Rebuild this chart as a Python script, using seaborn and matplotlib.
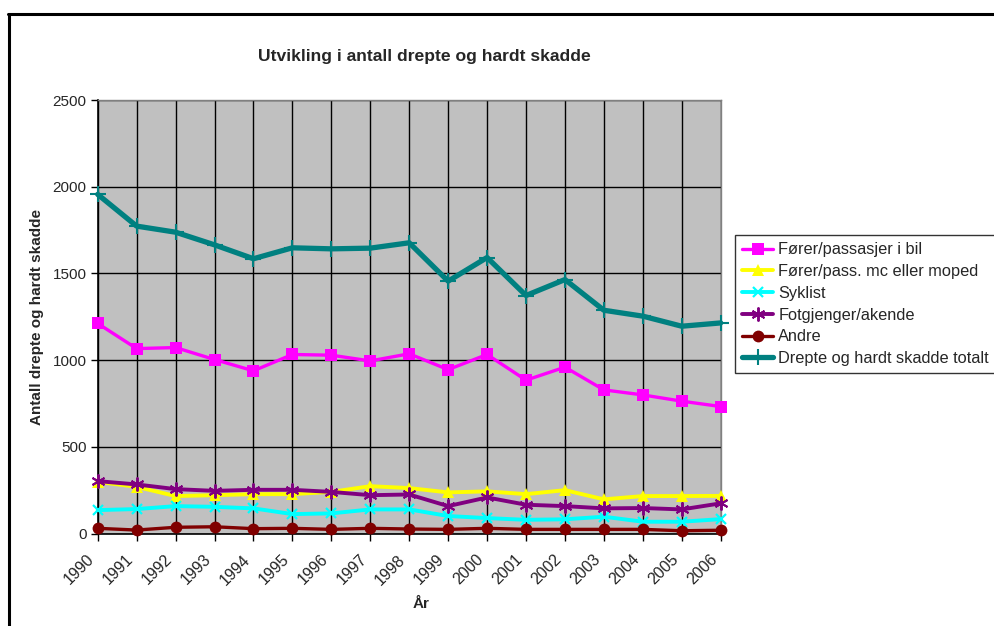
import matplotlib
matplotlib.use("Agg")
import matplotlib.pyplot as plt
from matplotlib.lines import Line2D
from matplotlib.transforms import ScaledTranslation
import seaborn as sns

years = list(range(1990, 2007))

forer_bil = [1212, 1067, 1073, 1004, 939, 1033, 1029, 996, 1037, 946, 1033, 885, 960, 829, 800, 764, 733]
forer_mc = [299, 270, 217, 222, 228, 228, 241, 274, 263, 238, 244, 228, 251, 198, 217, 217, 218]
syklist = [136, 142, 159, 155, 146, 113, 117, 140, 140, 102, 90, 80, 83, 98, 69, 69, 84]
fotgjenger = [303, 284, 257, 247, 253, 253, 241, 222, 226, 159, 209, 167, 159, 146, 148, 140, 175]
andre = [31, 21, 37, 40, 29, 31, 25, 31, 27, 25, 31, 25, 25, 25, 25, 17, 20]
totalt = [1956, 1773, 1738, 1665, 1585, 1648, 1642, 1646, 1677, 1456, 1592, 1373, 1465, 1288, 1254, 1196, 1215]

labels = [
    "Fører/passasjer i bil",
    "Fører/pass. mc eller moped",
    "Syklist",
    "Fotgjenger/akende",
    "Andre",
    "Drepte og hardt skadde totalt",
]
title = "Utvikling i antall drepte og hardt skadde"
ylabel = "Antall drepte og hardt skadde"
xlabel = "År"
yticks = [0, 500, 1000, 1500, 2000, 2500]

sns.set_theme(style="white")
plt.rcParams["font.family"] = ["Liberation Sans", "DejaVu Sans"]

fig = plt.figure(figsize=(9.95, 6.26), dpi=100)
fig.patch.set_facecolor("white")
ax = fig.add_axes([97.7 / 995, 1 - 533.7 / 626, 623 / 995, 433.7 / 626])
ax.set_facecolor("#C0C0C0")

styles = [
    dict(color="#FF00FF", marker="s", markersize=8, linewidth=2.4),
    dict(color="#FFFF00", marker="^", markersize=8.5, linewidth=2.8),
    dict(color="#00FFFF", marker="x", markersize=7.5, linewidth=2.8, mew=1.6),
    dict(color="#800080", marker=(6, 2, 0), markersize=10, linewidth=2.8, mew=1.4),
    dict(color="#800000", marker="o", markersize=8.5, linewidth=2.4),
    dict(color="#008080", marker="+", markersize=11, linewidth=3.8, mew=1.5),
]
series = [forer_bil, forer_mc, syklist, fotgjenger, andre, totalt]

for vals, lab, st in zip(series, labels, styles):
    st = dict(st)
    st.setdefault("mew", 0)
    sns.lineplot(x=years, y=vals, ax=ax, label=lab, clip_on=False, zorder=3,
                 markeredgecolor=st["color"], markerfacecolor=st["color"], **st)

ax.set_xlim(1990, 2006)
ax.set_ylim(0, 2500)
ax.set_xticks(years)
ax.set_yticks(yticks)
ax.set_xticklabels([str(y) for y in years], rotation=45, ha="right",
                   va="center", rotation_mode="anchor", fontsize=11.5)
ax.set_yticklabels([str(v) for v in yticks], fontsize=11)
ax.tick_params(axis="both", direction="out", length=5, width=1, color="black",
               bottom=True, left=True, pad=3)
ax.tick_params(axis="x", pad=9)
shift = ScaledTranslation(-6 / 100, -4 / 100, fig.dpi_scale_trans)
for t in ax.get_xticklabels():
    t.set_transform(t.get_transform() + shift)
ax.grid(True, color="black", linewidth=1)
ax.set_axisbelow(True)
for side in ("left", "bottom"):
    ax.spines[side].set_color("black")
    ax.spines[side].set_linewidth(1.2)
for side in ("top", "right"):
    ax.spines[side].set_color("#808080")
    ax.spines[side].set_linewidth(1)

ax.set_xlabel("")
ax.set_ylabel("")
fig.text(424 / 995, 1 - 57 / 626, title, ha="center", va="center",
         fontsize=12.6, fontweight="bold")
fig.text(37 / 995, 1 - 317 / 626, ylabel, ha="center", va="center",
         rotation=90, fontsize=11, fontweight="bold")
fig.text(421 / 995, 1 - 604 / 626, xlabel, ha="center", va="center",
         fontsize=11, fontweight="bold")

leg = ax.legend(loc="upper left", bbox_to_anchor=(735 / 995, 1 - 235 / 626),
                bbox_transform=fig.transFigure, frameon=True, fancybox=False,
                fontsize=11.8, handlelength=1.85, handletextpad=0.35,
                labelspacing=0.41, borderpad=0.45, borderaxespad=0)
leg.get_frame().set_edgecolor("black")
leg.get_frame().set_linewidth(1)

# outer chart border (top and left edges)
fig.add_artist(Line2D([8 / 995, 1.0], [1 - 14 / 626, 1 - 14 / 626],
                      transform=fig.transFigure, color="black", linewidth=2.2))
fig.add_artist(Line2D([8.5 / 995, 8.5 / 995], [0, 1 - 14 / 626],
                      transform=fig.transFigure, color="black", linewidth=2.2))

fig.savefig("out.png", dpi=100)
